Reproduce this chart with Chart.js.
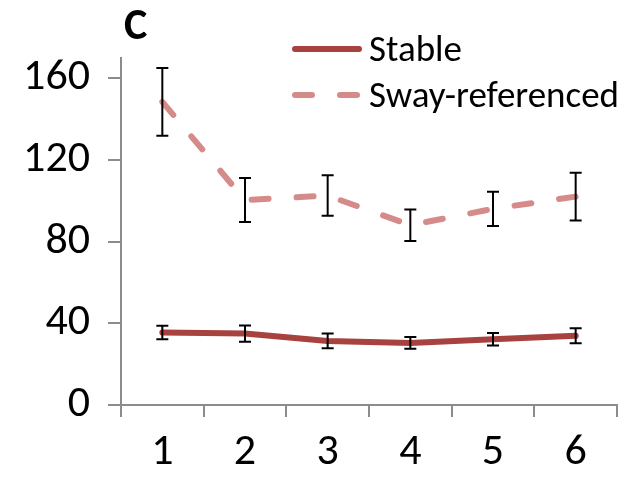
<!DOCTYPE html>
<html>
<head>
<meta charset="utf-8">
<script src="https://cdn.jsdelivr.net/npm/chart.js@4/dist/chart.umd.min.js"></script>
<style>
  html, body { margin: 0; padding: 0; background: #fff; }
  #wrap { width: 631px; height: 478px; position: relative; }
</style>
</head>
<body>
<div id="wrap"><canvas id="chart" width="631" height="478"></canvas></div>
<script>
// data
const sessions = ["1", "2", "3", "4", "5", "6"];
const stable = [35.5, 35.0, 31.4, 30.4, 32.2, 33.9];
const stableErr = [3.3, 4.0, 3.6, 2.9, 3.1, 3.7];
const sway = [148.5, 100.4, 102.6, 88.1, 96.1, 102.1];
const swayErr = [16.6, 10.8, 9.9, 7.7, 8.4, 11.7];
const yTicks = [0, 40, 80, 120, 160];

const FONT = "Carlito, Lato, 'Open Sans', sans-serif";
const STABLE_COL = "#a8423f";
const SWAY_COL = "#d58b8a";
const AXIS_COL = "#8c8c8c";

// error bars drawn on top of the lines
const errorBars = {
    id: "errorBars",
    afterDatasetsDraw(chart) {
        const ctx = chart.ctx;
        const x = chart.scales.x, y = chart.scales.y;
        const sets = [[stable, stableErr], [sway, swayErr]];
        ctx.save();
        ctx.strokeStyle = "#000";
        ctx.lineWidth = 2;
        sets.forEach(([vals, errs]) => {
            vals.forEach((v, i) => {
                const px = x.getPixelForValue(i);
                const top = y.getPixelForValue(v + errs[i]);
                const bot = y.getPixelForValue(v - errs[i]);
                ctx.beginPath();
                ctx.moveTo(px, top); ctx.lineTo(px, bot);
                ctx.moveTo(px - 6, top); ctx.lineTo(px + 6, top);
                ctx.moveTo(px - 6, bot); ctx.lineTo(px + 6, bot);
                ctx.stroke();
            });
        });
        ctx.restore();
    }
};

// panel letter and legend
const extras = {
    id: "extras",
    afterDraw(chart) {
        const ctx = chart.ctx;
        ctx.save();
        ctx.fillStyle = "#000";
        ctx.font = "bold 44px " + FONT;
        ctx.textBaseline = "alphabetic";
        ctx.textAlign = "left";
        ctx.fillText("C", 124, 39);

        const items = [
            {label: "Stable", color: STABLE_COL, dash: [], y: 49},
            {label: "Sway-referenced", color: SWAY_COL, dash: [17, 28], y: 95}
        ];
        items.forEach(it => {
            ctx.beginPath();
            ctx.strokeStyle = it.color;
            ctx.lineWidth = 6;
            ctx.lineCap = "round";
            ctx.setLineDash(it.dash);
            ctx.moveTo(295, it.y);
            ctx.lineTo(359, it.y);
            ctx.stroke();
            ctx.setLineDash([]);
            ctx.fillStyle = "#000";
            ctx.font = "37px " + FONT;
            ctx.textBaseline = "alphabetic";
            ctx.fillText(it.label, 369, it.y + 12);
        });
        ctx.restore();
    }
};

new Chart(document.getElementById("chart"), {
    type: "line",
    data: {
        labels: sessions,
        datasets: [
            {
                label: "Stable",
                data: stable,
                borderColor: STABLE_COL,
                borderWidth: 6,
                borderCapStyle: "round",
                borderJoinStyle: "round",
                pointRadius: 0,
                tension: 0
            },
            {
                label: "Sway-referenced",
                data: sway,
                borderColor: SWAY_COL,
                borderWidth: 6,
                borderDash: [17, 28],
                borderCapStyle: "round",
                borderJoinStyle: "round",
                pointRadius: 0,
                tension: 0
            }
        ]
    },
    options: {
        responsive: false,
        animation: false,
        layout: { padding: { top: 58, right: 14, left: 0, bottom: 0 } },
        plugins: { legend: { display: false }, tooltip: { enabled: false } },
        scales: {
            x: {
                offset: true,
                grid: { offset: true, drawOnChartArea: false, drawTicks: true, tickLength: 12, color: AXIS_COL, lineWidth: 2 },
                border: { color: AXIS_COL, width: 2 },
                ticks: { color: "#000", font: { family: FONT, size: 44 }, padding: 10, maxRotation: 0 },
                afterFit(scale) { scale.height = 73; }
            },
            y: {
                min: 0,
                max: 170,
                grid: { drawOnChartArea: false, drawTicks: true, tickLength: 13, color: AXIS_COL, lineWidth: 2 },
                border: { color: AXIS_COL, width: 2 },
                ticks: { color: "#000", font: { family: FONT, size: 44 }, padding: 18, stepSize: 40 },
                afterBuildTicks(scale) { scale.ticks = yTicks.map(v => ({value: v})); },
                afterFit(scale) { scale.width = 121; }
            }
        }
    },
    plugins: [errorBars, extras]
});
</script>
</body>
</html>
